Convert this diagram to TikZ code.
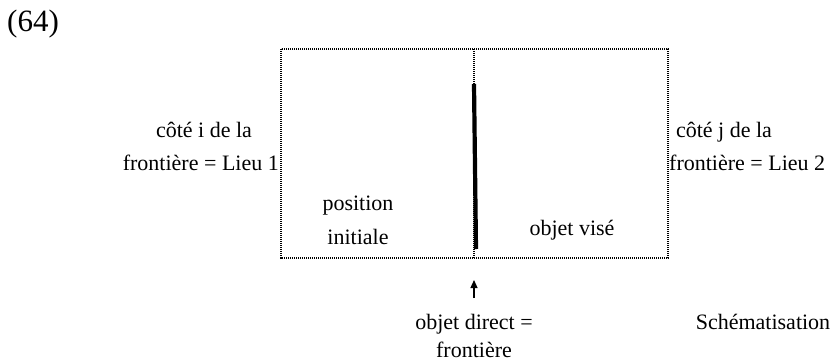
\documentclass[tikz,border=0pt]{standalone}
\usepackage{fontspec}
\setmainfont{Liberation Serif}
\usetikzlibrary{arrows.meta}
\begin{document}
\begin{tikzpicture}[x=1pt,y=-1pt,
  txt/.style={inner sep=0pt,font=\fontsize{22}{33}\selectfont,anchor=base},
  dotline/.style={line width=1.8pt,dash pattern=on 1.1pt off 0.9pt},
  midline/.style={line width=2.8pt,dash pattern=on 1.1pt off 0.9pt},
  barline/.style={line width=4.2pt},
  arr/.style={-{Triangle[length=8pt,width=7pt]},line width=1.2pt}]
\useasboundingbox (0,0) rectangle (837,360);
\coordinate (tl) at (281,49);
\coordinate (br) at (668,258);
\coordinate (mt) at (474,49);
\coordinate (mb) at (474,258);
\draw[dotline] (tl) rectangle (br);
\draw[midline] (mt) -- (mb);
\coordinate (bt) at (474,84);
\coordinate (bb) at (476,249);
\draw[barline] (bt) -- (bb);
\coordinate (as) at (474,298);
\coordinate (ae) at (474,280);
\draw[arr] (as) -- (ae);
\node[txt,font=\fontsize{31}{34}\selectfont,anchor=base west] (num) at (7,31) {(64)};
\node[txt] (l1) at (204,137) {côté i de la};
\node[txt,anchor=base east] (l2) at (279,170) {frontière = Lieu 1};
\node[txt] (r1) at (724,137) {côté j de la};
\node[txt,anchor=base west] (r2) at (669,170) {frontière = Lieu 2};
\node[txt] (p1) at (358,210) {position};
\node[txt] (p2) at (358,244) {initiale};
\node[txt] (ov) at (572,235) {objet visé};
\node[txt] (od1) at (474,329) {objet direct =};
\node[txt] (od2) at (474,357) {frontière};
\node[txt] (sc) at (763,329) {Schématisation};
\end{tikzpicture}
\end{document}
